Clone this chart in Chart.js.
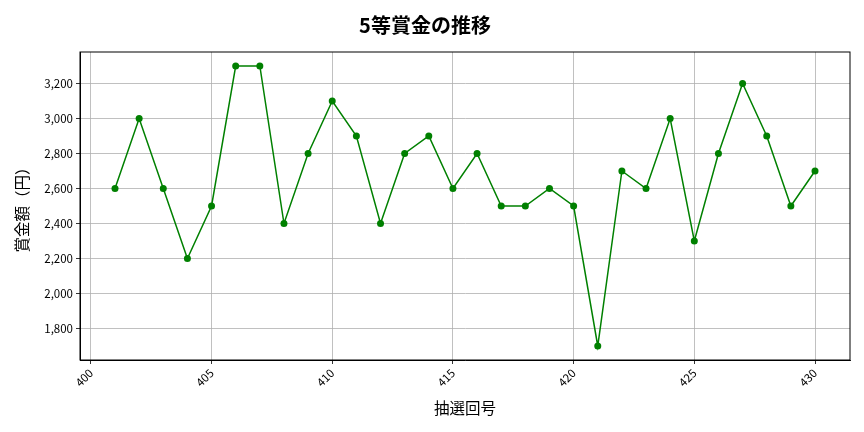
<!DOCTYPE html>
<html>
<head>
<meta charset="utf-8">
<script src="https://cdn.jsdelivr.net/npm/chart.js@4"></script>
<style>
html,body{margin:0;padding:0;background:#fff;}
#wrap{width:864px;height:432px;}
</style>
</head>
<body>
<div id="wrap"><canvas id="c" width="864" height="432"></canvas></div>
<script>
const draws = [401,402,403,404,405,406,407,408,409,410,411,412,413,414,415,416,417,418,419,420,421,422,423,424,425,426,427,428,429,430];
const prizes = [2600,3000,2600,2200,2500,3300,3300,2400,2800,3100,2900,2400,2800,2900,2600,2800,2500,2500,2600,2500,1700,2700,2600,3000,2300,2800,3200,2900,2500,2700];
const xTicks = [400,405,410,415,420,425,430];
const yTicks = [1800,2000,2200,2400,2600,2800,3000,3200];
const titleText = '5等賞金の推移';
const xTitle = '抽選回号';
const yTitle = '賞金額（円）';

const FONT = '"Noto Sans CJK JP", "Noto Sans", sans-serif';
Chart.defaults.font.family = FONT;
Chart.defaults.color = '#000';

const frame = {
  id: 'frame',
  afterDatasetsDraw(chart) {
    const a = chart.chartArea, ctx = chart.ctx;
    ctx.save();
    ctx.strokeStyle = '#000';
    ctx.lineWidth = 1;
    ctx.strokeRect(a.left, a.top, a.right - a.left, a.bottom - a.top);
    ctx.restore();
  }
};

new Chart(document.getElementById('c'), {
  type: 'line',
  data: {
    datasets: [{
      data: draws.map((d, i) => ({x: d, y: prizes[i]})),
      borderColor: '#008000',
      backgroundColor: '#008000',
      borderWidth: 1.5,
      pointRadius: 3.5,
      pointHoverRadius: 3.5,
      pointBorderWidth: 0,
      tension: 0,
      fill: false
    }]
  },
  options: {
    responsive: false,
    animation: false,
    devicePixelRatio: 1,
    layout: {padding: {left: 0, right: 14, top: 0, bottom: 0}},
    plugins: {
      legend: {display: false},
      tooltip: {enabled: false},
      title: {
        display: true,
        text: titleText,
        font: {size: 20, weight: 'bold', family: FONT, lineHeight: 1.2},
        color: '#000',
        padding: {top: 13, bottom: 15}
      }
    },
    scales: {
      x: {
        type: 'linear',
        min: 399.55,
        max: 431.45,
        afterBuildTicks(s) { s.ticks = xTicks.map(v => ({value: v})); },
        afterFit(s) { s.height = 72; },
        ticks: {
          font: {size: 11.5},
          color: '#000',
          maxRotation: 45,
          minRotation: 45,
          padding: 2,
          callback: v => String(v)
        },
        grid: {color: '#b0b0b0', lineWidth: 0.8, tickColor: '#000', tickLength: 4, drawTicks: true},
        border: {display: true, color: '#000', width: 1},
        title: {display: true, text: xTitle, font: {size: 15.5, family: FONT}, color: '#000', padding: {top: 4, bottom: 15}}
      },
      y: {
        type: 'linear',
        min: 1620,
        max: 3380,
        afterBuildTicks(s) { s.ticks = yTicks.map(v => ({value: v})); },
        afterFit(s) { s.width = 80; },
        ticks: {
          font: {size: 11.5},
          color: '#000',
          padding: 3,
          callback: v => v.toLocaleString('en-US')
        },
        grid: {color: '#b0b0b0', lineWidth: 0.8, tickColor: '#000', tickLength: 4, drawTicks: true},
        border: {display: true, color: '#000', width: 1},
        title: {display: true, text: yTitle, font: {size: 15.5, family: FONT}, color: '#000', padding: {top: 13, bottom: 4}}
      }
    }
  },
  plugins: [frame]
});
</script>
</body>
</html>
